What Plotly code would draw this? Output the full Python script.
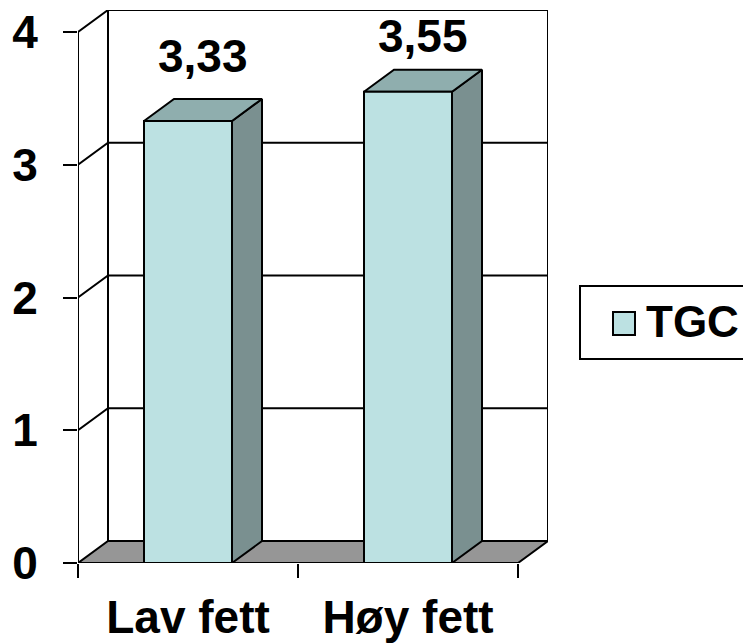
import plotly.graph_objects as go

categories = ["Lav fett", "Høy fett"]
tgc = [3.33, 3.55]
y_ticks = [0, 1, 2, 3, 4]
series_name = "TGC"

FRONT = "#BCE1E2"
TOP = "#8FAEAE"
SIDE = "#7A9090"
FLOOR = "#969696"
FONT = "Arial, Liberation Sans, sans-serif"

# page body adds an 8px margin, so the figure is sized/offset to compensate
OFF = 8
W, H = 751 - OFF, 644 - OFF
L, R, T, B = 78 - OFF, 203, 10 - OFF, 81
PPU = 132.75       # pixels per value unit
DX = 30 / 220      # depth shift in category units
DY = 22 / PPU      # depth shift in value units
BAR = 0.4
YMAX = y_ticks[-1]
x0, x1 = -0.5, len(categories) - 0.5


def poly(xs, ys, fill, width=2):
    return go.Scatter(x=xs + [xs[0]], y=ys + [ys[0]], mode="lines", fill="toself",
                      fillcolor=fill, line=dict(color="black", width=width),
                      hoverinfo="skip", showlegend=False)


def lines(xs, ys, width=2):
    return go.Scatter(x=xs, y=ys, mode="lines", line=dict(color="black", width=width),
                      hoverinfo="skip", showlegend=False)


fig = go.Figure()

# walls and gridlines
gx, gy = [], []
for v in y_ticks[1:]:
    gx += [x0, x0 + DX, x1 + DX, None]
    gy += [v, v + DY, v + DY, None]
gx += [x0 + DX, x0 + DX, None, x1 + DX, x1 + DX, None, x0, x0]
gy += [DY, YMAX + DY, None, DY, YMAX + DY, None, 0, YMAX]
fig.add_trace(lines(gx, gy))

# floor
fig.add_trace(poly([x0, x1, x1 + DX, x0 + DX], [0, 0, DY, DY], FLOOR))

# 3d bars
for i, v in enumerate(tgc):
    a, b = i - BAR / 2, i + BAR / 2
    fig.add_trace(poly([b, b + DX, b + DX, b], [0, DY, v + DY, v], SIDE))
    fig.add_trace(poly([a, b, b + DX, a + DX], [v, v, v + DY, v + DY], TOP))
    fig.add_trace(poly([a, b, b, a], [0, 0, v, v], FRONT))
    # label sits above the bar but is kept inside the chart top (like Excel does)
    room = (YMAX + DY - v - DY) * PPU + T
    shift = min(15, room - 56)
    fig.add_annotation(x=i + DX / 2, y=v + DY, text=f"{v:.2f}".replace(".", ","),
                       showarrow=False, yanchor="bottom", yshift=shift,
                       font=dict(family=FONT, size=46, color="black", weight="bold"))


# manual legend (box runs off the right edge); positions in window pixels
def px_x(p):
    return (p - OFF - L) / (W - L - R)


def px_y(p):
    return (H - B - (p - OFF)) / (H - B - T)


fig.add_shape(type="rect", xref="paper", yref="paper", x0=px_x(580), x1=px_x(770),
              y0=px_y(359), y1=px_y(286), line=dict(color="black", width=2),
              fillcolor="white")
fig.add_shape(type="rect", xref="paper", yref="paper", x0=px_x(613), x1=px_x(635),
              y0=px_y(335), y1=px_y(312), line=dict(color="black", width=2),
              fillcolor=FRONT)
fig.add_annotation(xref="paper", yref="paper", x=px_x(644), y=px_y(321), text=series_name,
                   showarrow=False, xanchor="left", yanchor="middle",
                   font=dict(family=FONT, size=44, color="black", weight="bold"))

fig.update_xaxes(range=[x0, x1 + DX], tickvals=list(range(len(categories))),
                 ticktext=categories, ticks="", showgrid=False, zeroline=False,
                 showline=False, ticklabelstandoff=23, automargin=False,
                 ticklabeloverflow="allow",
                 tickfont=dict(family=FONT, size=46, color="black", weight="bold"),
                 minor=dict(tickvals=[x0 + k for k in range(len(categories) + 1)],
                            ticks="outside", ticklen=14, tickwidth=1.5,
                            tickcolor="black", showgrid=False))
fig.update_yaxes(range=[0, YMAX + DY], tickvals=y_ticks, ticks="outside", ticklen=14,
                 tickwidth=1.5, tickcolor="black", showgrid=False, zeroline=False,
                 showline=False, ticklabelstandoff=16, automargin=False,
                 ticklabeloverflow="allow",
                 tickfont=dict(family=FONT, size=46, color="black", weight="bold"))
fig.update_layout(width=W, height=H, autosize=False,
                  margin=dict(l=L, r=R, t=T, b=B),
                  plot_bgcolor="white", paper_bgcolor="white", showlegend=False)

fig.write_html("out.html")
